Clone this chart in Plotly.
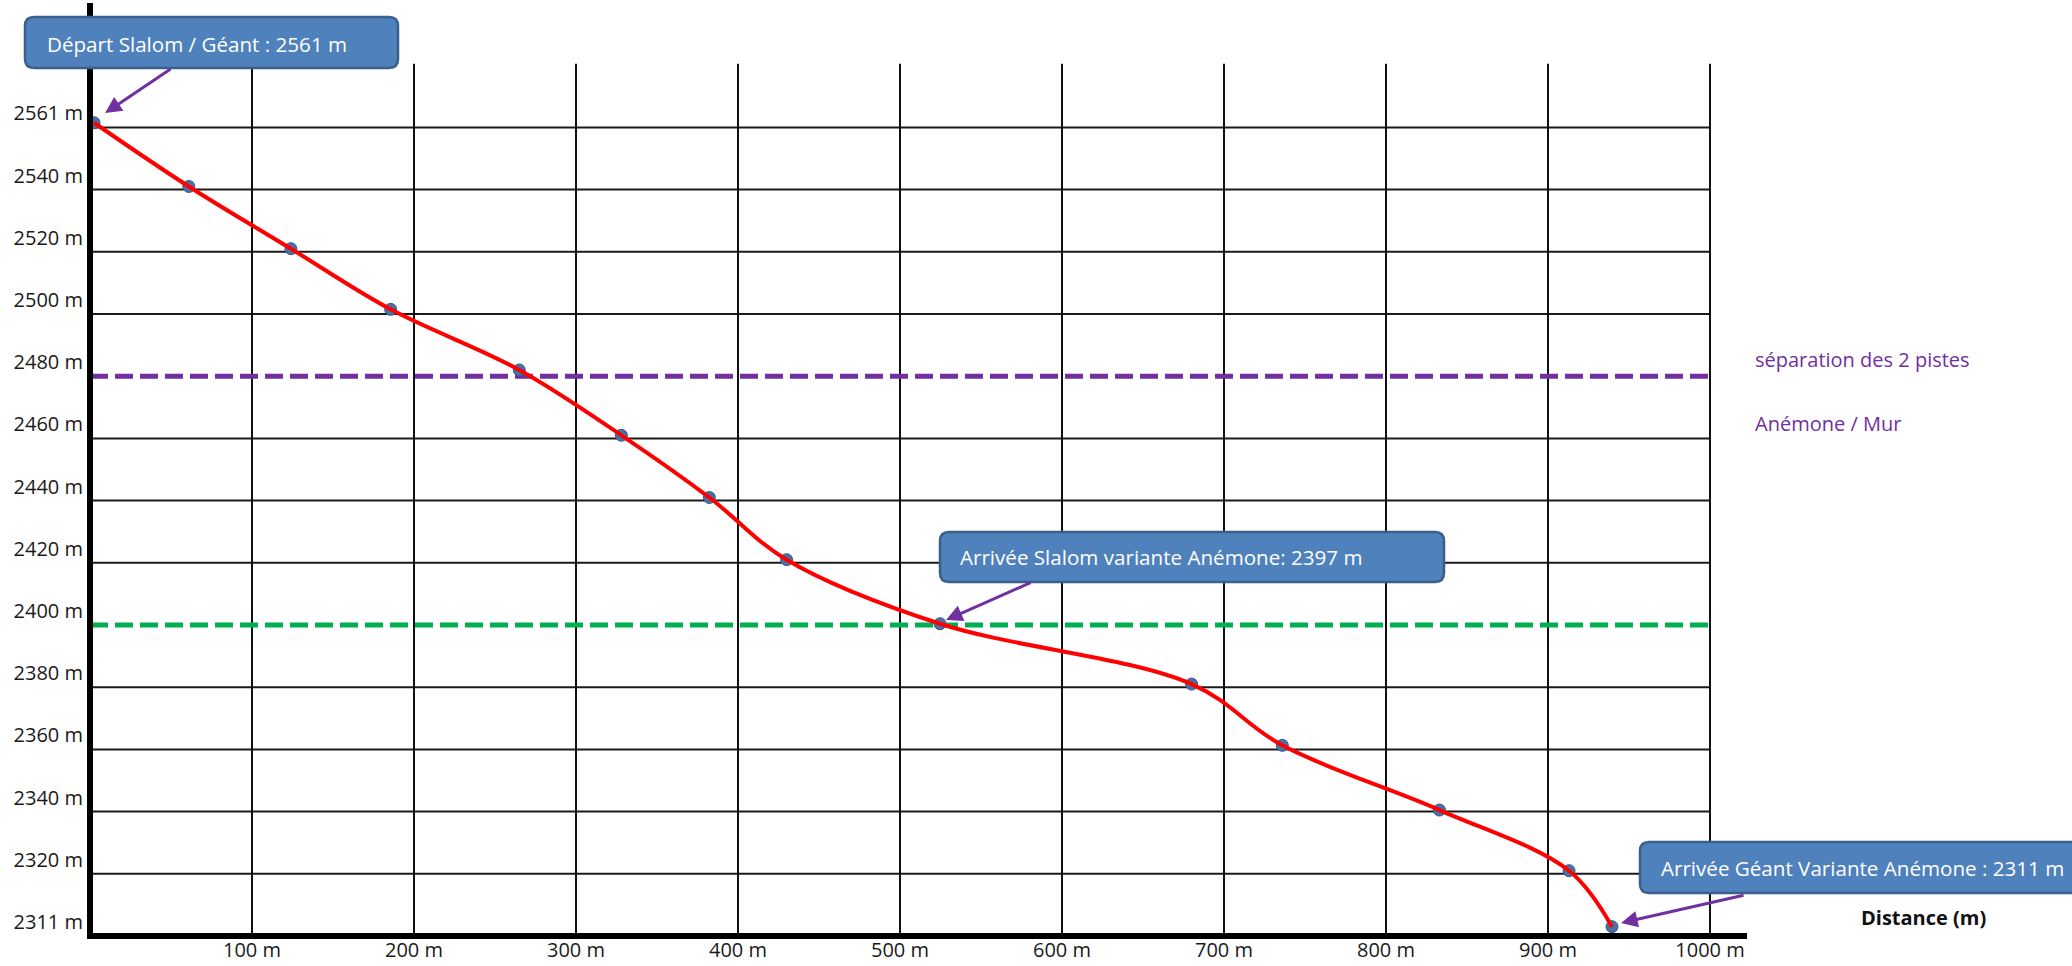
import plotly.graph_objects as go

# ---------------- data ----------------
distance_m = [2.5, 61, 124, 185.6, 265, 328, 382.3, 430, 524.7, 680, 736, 833, 913, 939.5]
altitude_m = [2561.5, 2541, 2521, 2501.5, 2482, 2461, 2441, 2421, 2400.4, 2381, 2361.3, 2340.5, 2321, 2303]

x_tick_vals = [100, 200, 300, 400, 500, 600, 700, 800, 900, 1000]
x_tick_labels = ["100 m", "200 m", "300 m", "400 m", "500 m", "600 m", "700 m", "800 m", "900 m", "1000 m"]
y_tick_vals = [2300, 2320, 2340, 2360, 2380, 2400, 2420, 2440, 2460, 2480, 2500, 2520, 2540, 2560]
y_tick_labels = ["2311 m", "2320 m", "2340 m", "2360 m", "2380 m", "2400 m", "2420 m", "2440 m",
                 "2460 m", "2480 m", "2500 m", "2520 m", "2540 m", "2561 m"]

separation_alt = 2480      # séparation des 2 pistes Anémone / Mur
slalom_finish_alt = 2400   # Arrivée Slalom variante Anémone

start_label = "Départ Slalom / Géant : 2561 m"
slalom_label = "Arrivée Slalom variante Anémone: 2397 m"
giant_label = "Arrivée Géant Variante Anémone : 2311 m"

# ---------------- layout geometry ----------------
W, H = 2072, 966
ML, MR, MT, MB = 90, 325, 3, 30
PW, PH = W - ML - MR, H - MT - MB
X_RANGE = [0, PW / 1.62]
Y_RANGE = [2300, 2300 + PH / 3.11]
FONT = "Open Sans"
PURPLE = "#7030A0"


def pxx(px):
    return (px - ML) / PW


def pxy(py):
    return (H - MB - py) / PH


def rounded_box(x0, y0, x1, y1, r=9):
    xl, xr, yt, yb = pxx(x0), pxx(x1), pxy(y0), pxy(y1)
    rx, ry = r / PW, r / PH
    return (f"M{xl+rx},{yt} L{xr-rx},{yt} Q{xr},{yt} {xr},{yt-ry} L{xr},{yb+ry} "
            f"Q{xr},{yb} {xr-rx},{yb} L{xl+rx},{yb} Q{xl},{yb} {xl},{yb+ry} "
            f"L{xl},{yt-ry} Q{xl},{yt} {xl+rx},{yt} Z")


fig = go.Figure()

fig.add_trace(go.Scatter(
    x=distance_m, y=altitude_m, mode="markers", cliponaxis=False,
    marker=dict(size=12, color="#4872A6", line=dict(color="#36598A", width=1)),
    hoverinfo="x+y", showlegend=False))
fig.add_trace(go.Scatter(
    x=distance_m, y=altitude_m, mode="lines", cliponaxis=False,
    line=dict(color="#FF0000", width=4, shape="spline", smoothing=1.0),
    hoverinfo="skip", showlegend=False))

shapes = []
# grid (the dashed reference lines replace the grid line at their level)
for yv in y_tick_vals[1:]:
    if yv in (separation_alt, slalom_finish_alt):
        continue
    shapes.append(dict(type="line", xref="x", yref="y", x0=0, x1=x_tick_vals[-1], y0=yv, y1=yv,
                       line=dict(color="#1a1a1a", width=2), layer="below"))
for xv in x_tick_vals:
    shapes.append(dict(type="line", xref="x", yref="y", x0=xv, x1=xv, y0=Y_RANGE[0], y1=2580.5,
                       line=dict(color="#111111", width=2), layer="below"))
# dashed reference lines
shapes.append(dict(type="line", xref="x", yref="y", x0=0, x1=x_tick_vals[-1],
                   y0=separation_alt, y1=separation_alt,
                   line=dict(color=PURPLE, width=5, dash="18px,7px"), layer="below"))
shapes.append(dict(type="line", xref="x", yref="y", x0=0, x1=x_tick_vals[-1],
                   y0=slalom_finish_alt, y1=slalom_finish_alt,
                   line=dict(color="#00B050", width=5, dash="18px,7px"), layer="below"))
# thick axes
shapes.append(dict(type="line", xref="paper", yref="paper", x0=0, x1=0, y0=pxy(939), y1=1,
                   line=dict(color="black", width=6), layer="above"))
shapes.append(dict(type="line", xref="paper", yref="paper", x0=pxx(87), x1=1, y0=0, y1=0,
                   line=dict(color="black", width=6), layer="above"))
# callout boxes
for (x0, y0, x1, y1) in [(25, 17, 398, 68), (940, 532, 1444, 582), (1640, 842, 2095, 893)]:
    shapes.append(dict(type="path", xref="paper", yref="paper", path=rounded_box(x0, y0, x1, y1),
                       fillcolor="#4F81BD", line=dict(color="#3A5F8C", width=2.5), layer="above"))

annotations = []
for txt, x, y in [(start_label, 45, 44), (slalom_label, 958, 557), (giant_label, 1659, 868)]:
    annotations.append(dict(text=txt, xref="paper", yref="paper", x=pxx(x), y=pxy(y),
                            xanchor="left", yanchor="middle", showarrow=False,
                            font=dict(family=FONT, size=20.6, color="#FFFFFF")))
# arrows (tip at the marked point, tail offset in pixels)
for (tx, ty, ax, ay) in [(9.3, 2564.6, 67, -45), (528.4, 2401.6, 86, -38), (945.1, 2304.2, 124, -28)]:
    annotations.append(dict(text="", x=tx, y=ty, xref="x", yref="y", ax=ax, ay=ay,
                            showarrow=True, arrowhead=2, arrowsize=1.1, arrowwidth=3,
                            arrowcolor=PURPLE, standoff=0))
annotations.append(dict(text="séparation des 2 pistes", xref="paper", yref="paper",
                        x=pxx(1753), y=pxy(360), xanchor="left", yanchor="middle", showarrow=False,
                        font=dict(family=FONT, size=20, color=PURPLE)))
annotations.append(dict(text="Anémone / Mur", xref="paper", yref="paper",
                        x=pxx(1753), y=pxy(423), xanchor="left", yanchor="middle", showarrow=False,
                        font=dict(family=FONT, size=20, color=PURPLE)))
annotations.append(dict(text="<b>Distance (m)</b>", xref="paper", yref="paper",
                        x=pxx(1923), y=pxy(917), xanchor="center", yanchor="middle", showarrow=False,
                        font=dict(family=FONT, size=20, color="#111111")))

fig.update_layout(
    width=W, height=H, margin=dict(l=ML, r=MR, t=MT, b=MB, pad=0),
    paper_bgcolor="white", plot_bgcolor="white",
    font=dict(family=FONT, size=20, color="#1a1a1a"),
    shapes=shapes, annotations=annotations, showlegend=False,
    xaxis=dict(range=X_RANGE, tickvals=x_tick_vals, ticktext=x_tick_labels, showgrid=False,
               zeroline=False, showline=False, ticks="", tickfont=dict(size=20)),
    yaxis=dict(range=Y_RANGE, tickvals=y_tick_vals, ticktext=y_tick_labels, showgrid=False,
               zeroline=False, showline=False, ticks="", tickfont=dict(size=20),
               ticklabelshift=-14, ticklabelstandoff=6),
)

fig.write_html("out.html", config={"displayModeBar": False},
               post_script="document.body.style.margin='0';document.body.style.overflow='hidden';")
